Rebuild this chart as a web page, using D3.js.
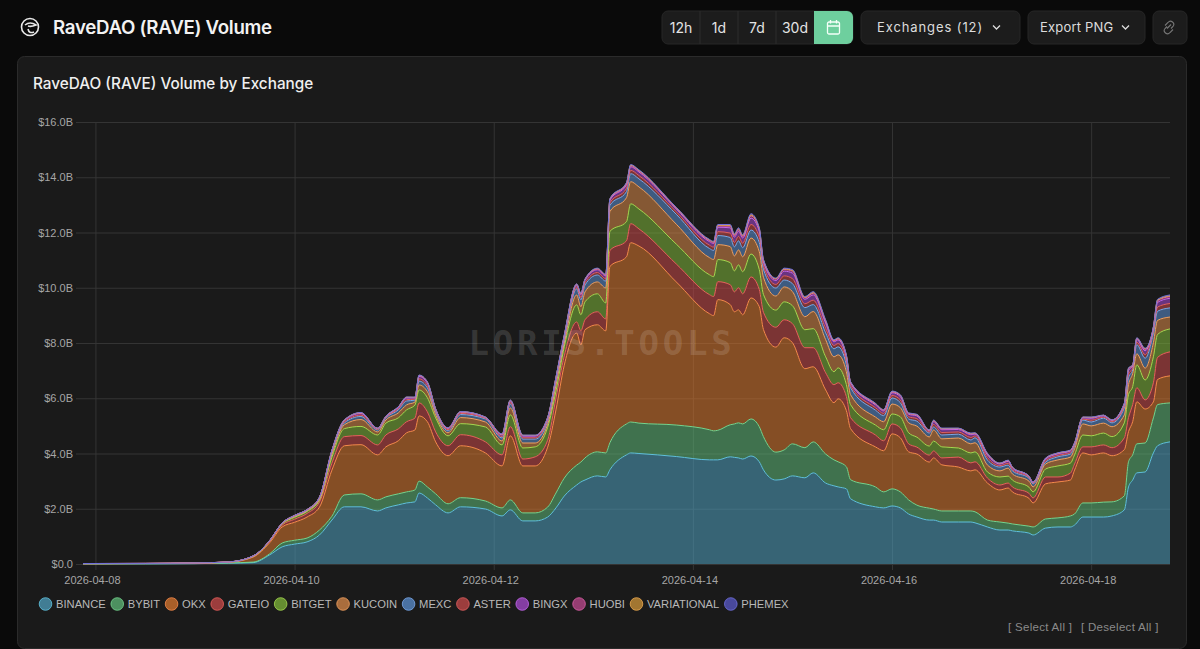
<!DOCTYPE html>
<html>
<head>
<meta charset="utf-8">
<title>RaveDAO (RAVE) Volume</title>
<script src="https://cdnjs.cloudflare.com/ajax/libs/d3/7.9.0/d3.min.js"></script>
<style>
  html, body { margin: 0; padding: 0; background: #0a0a0a; overflow: hidden; }
  svg { display: block; }
</style>
</head>
<body>
<svg id="chart" width="1200" height="649"></svg>
<script>
// hours since 2026-04-08 00:00 UTC
const hours = [
  -3,12,24,32,38,42,45,48,51,54,
  57,60,64,68,70,73,75,77,78,80,
  82,85,88,94,98,100,103,106,109,111,
  113,116,117,118,121,123,124,128,129,131,
  140,148,149,150,153,154,155,156,158,160,
  161,164,166,168,171,173,176,178,179,181,
  182,188,190,192,194,196,198,201,202,204,
  208,211,212,215,218,220,221,225,226,229,
  232,235,236,238,240,243,245,248,249,250,
  251,253,255,256,259];

// volume per exchange, $B
const binance = [
  .004,.006,.012,.03,.05,.33,.62,.72,.80,1.05,
  1.59,2.07,2.07,1.92,2.03,2.14,2.21,2.25,2.57,2.39,
  2.14,1.85,2.07,1.99,1.74,1.96,1.56,1.56,1.70,2.03,
  2.46,2.86,2.97,3.04,3.19,3.15,3.41,3.95,4.02,4.00,
  3.89,3.77,3.77,3.77,3.88,3.86,3.84,3.80,3.91,3.70,
  3.41,3.04,3.08,3.19,3.12,3.30,2.93,2.83,2.79,2.72,
  2.36,2.07,2.03,2.10,2.03,1.81,1.70,1.59,1.59,1.52,
  1.52,1.52,1.49,1.34,1.23,1.23,1.20,1.12,1.05,1.30,
  1.34,1.34,1.41,1.70,1.70,1.70,1.74,1.96,2.79,3.04,
  3.30,3.33,4.02,4.28,4.42];
const bybit = [
  .001,.002,.004,.008,.02,.04,.14,.14,.14,.18,
  .14,.43,.47,.40,.40,.40,.40,.43,.43,.40,
  .40,.33,.33,.29,.29,.36,.29,.29,.36,.54,
  .65,.72,.72,.80,.87,.87,.98,1.12,1.12,1.10,
  1.14,1.09,1.05,1.07,1.16,1.21,1.27,1.27,1.34,1.27,
  1.20,1.01,1.05,1.16,1.09,1.12,1.05,.94,.91,.80,
  .69,.72,.58,.62,.58,.51,.43,.43,.40,.40,
  .40,.40,.40,.25,.29,.25,.25,.25,.29,.33,
  .33,.40,.40,.51,.51,.54,.51,.51,.91,.91,
  1.05,1.05,1.27,1.49,1.41];
const okx = [
  .006,.008,.014,.025,.18,.40,.58,.65,.76,.83,
  1.67,1.78,1.78,1.63,1.81,1.92,2.14,2.17,2.36,2.36,
  1.88,1.74,1.88,1.74,1.52,2.32,1.70,1.70,2.17,3.01,
  4.09,4.78,4.24,4.64,4.60,4.42,6.38,6.05,6.49,6.41,
  5.18,4.20,4.17,4.73,4.35,4.06,4.09,3.95,4.38,4.35,
  3.88,3.80,4.06,3.66,2.86,2.72,2.32,2.07,2.28,2.03,
  1.85,1.45,1.49,1.99,1.96,1.74,1.85,1.67,1.85,1.67,
  1.59,1.45,1.52,1.34,1.16,1.27,1.16,1.01,.87,1.27,
  1.30,1.30,1.59,1.81,1.74,1.78,1.67,1.67,1.09,1.20,
  1.52,1.23,.58,.91,.98];
const gateio = [
  .001,.001,.002,.003,.01,.04,.07,.11,.13,.18,
  .25,.33,.33,.36,.43,.43,.40,.43,.47,.36,
  .36,.36,.40,.40,.40,.33,.25,.33,.25,.43,
  .33,.40,.51,.36,.47,.43,.58,.58,.69,.62,
  .65,.69,.69,.65,.72,.72,.80,.76,.76,.62,
  .62,.72,.65,.69,.76,.69,.62,.65,.58,.51,
  .40,.43,.36,.36,.36,.29,.25,.25,.25,.25,
  .36,.29,.29,.18,.18,.18,.18,.18,.18,.25,
  .18,.25,.22,.22,.29,.29,.29,.43,.51,.62,
  .51,.33,.69,.80,.87];
const bitget = [
  .001,.001,.002,.003,.01,.02,.04,.07,.07,.07,
  .22,.29,.33,.36,.43,.40,.43,.47,.47,.51,
  .51,.36,.40,.54,.36,.43,.40,.36,.47,.25,
  .33,.62,.58,.65,.65,.58,.69,.69,.72,.72,
  .72,.72,.72,.80,.80,.76,.83,.80,.83,.72,
  .65,.62,.65,.65,.65,.69,.58,.47,.54,.43,
  .47,.36,.40,.36,.40,.40,.36,.33,.36,.40,
  .33,.36,.36,.22,.29,.25,.25,.22,.22,.29,
  .40,.36,.33,.43,.40,.43,.40,.54,.83,.65,
  .83,.72,.94,.83,.83];
const kucoin = [
  .001,.001,.001,.002,.01,.01,.015,.025,.025,.04,
  .11,.14,.25,.11,.11,.18,.18,.11,.18,.22,
  .11,.11,.22,.18,.14,.25,.18,.14,.11,.22,
  .14,.36,.29,.36,.43,.54,.72,.87,.80,.80,
  .72,.62,.62,.54,.58,.54,.54,.54,.58,.65,
  .62,.51,.54,.51,.47,.62,.62,.54,.47,.47,
  .36,.29,.29,.36,.33,.36,.40,.33,.40,.29,
  .36,.33,.33,.25,.22,.29,.22,.22,.18,.18,
  .22,.22,.22,.40,.36,.36,.36,.29,.36,.47,
  .40,.43,.51,.51,.43];
const mexc = [
  .001,.001,.001,.001,.005,.007,.011,.022,.018,.036,
  .07,.07,.11,.07,.07,.11,.14,.07,.14,.14,
  .11,.07,.11,.11,.11,.14,.14,.14,.11,.14,
  .11,.22,.25,.25,.25,.25,.22,.22,.29,.29,
  .36,.33,.33,.33,.33,.33,.33,.33,.29,.33,
  .29,.29,.25,.29,.33,.25,.25,.29,.29,.25,
  .25,.25,.22,.22,.18,.14,.18,.14,.11,.14,
  .14,.14,.18,.18,.14,.11,.11,.11,.11,.07,
  .11,.11,.11,.14,.14,.18,.14,.25,.25,.14,
  .33,.36,.36,.33,.33];
const aster = [
  .001,.001,.001,.001,.003,.001,.003,.009,.01,.013,
  .025,.04,.05,.025,.025,.04,.05,.04,.08,.08,
  .04,.04,.04,.025,.05,.05,.05,.05,.05,.05,
  .065,.065,.09,.08,.09,.09,.09,.12,.12,.12,
  .09,.12,.12,.14,.16,.16,.16,.16,.20,.19,
  .13,.13,.15,.18,.14,.16,.16,.12,.12,.13,
  .08,.09,.08,.09,.10,.08,.09,.04,.09,.09,
  .08,.09,.065,.09,.05,.065,.05,.025,.025,.05,
  .05,.05,.04,.04,.065,.04,.04,.065,.13,.065,
  .09,.13,.08,.15,.16];
const bingx = [
  .001,.001,.001,.001,.004,.002,.004,.01,.012,.015,
  .03,.045,.06,.03,.03,.045,.06,.045,.09,.09,
  .045,.045,.045,.03,.06,.06,.06,.06,.06,.06,
  .07,.07,.10,.09,.10,.10,.10,.13,.13,.13,
  .10,.13,.13,.16,.19,.19,.19,.19,.23,.22,
  .14,.14,.17,.20,.16,.19,.19,.13,.13,.14,
  .09,.10,.09,.10,.12,.09,.10,.045,.10,.10,
  .09,.10,.07,.10,.06,.07,.06,.03,.03,.06,
  .06,.06,.045,.045,.07,.045,.045,.07,.14,.07,
  .10,.14,.09,.17,.19];
const huobi = [
  0,0,0,0,.001,.001,.001,.003,.004,.005,
  .01,.015,.02,.01,.01,.015,.02,.015,.03,.03,
  .015,.015,.015,.01,.02,.02,.02,.02,.02,.02,
  .025,.025,.03,.03,.03,.03,.03,.04,.04,.04,
  .03,.04,.04,.05,.06,.06,.06,.06,.08,.07,
  .05,.05,.06,.07,.05,.06,.06,.04,.04,.05,
  .03,.03,.03,.03,.04,.03,.03,.015,.03,.03,
  .03,.03,.025,.03,.02,.025,.02,.01,.01,.02,
  .02,.02,.015,.015,.025,.015,.015,.025,.05,.025,
  .03,.05,.03,.06,.06];
const variational = [
  0,0,0,0,0,0,0,.001,.001,.001,
  .003,.005,.008,.003,.003,.005,.008,.005,.01,.01,
  .005,.005,.005,.003,.008,.008,.008,.008,.008,.008,
  .01,.01,.015,.01,.015,.015,.015,.02,.02,.02,
  .015,.02,.02,.025,.03,.03,.03,.03,.04,.03,
  .02,.02,.025,.03,.025,.03,.03,.02,.02,.02,
  .01,.015,.01,.015,.015,.01,.015,.005,.015,.015,
  .01,.015,.01,.015,.008,.01,.008,.003,.003,.008,
  .008,.008,.005,.005,.01,.005,.005,.01,.02,.01,
  .015,.02,.01,.025,.03];
const phemex = [
  0,0,0,0,0,0,0,.001,.001,.001,
  .002,.005,.007,.002,.002,.005,.007,.005,.01,.01,
  .005,.005,.005,.002,.007,.007,.007,.007,.007,.007,
  .01,.01,.015,.01,.015,.015,.015,.02,.02,.02,
  .015,.02,.02,.025,.03,.03,.03,.03,.04,.03,
  .02,.02,.025,.03,.025,.03,.03,.02,.02,.02,
  .01,.015,.01,.015,.015,.01,.015,.005,.015,.015,
  .01,.015,.01,.015,.007,.01,.007,.002,.002,.007,
  .007,.007,.005,.005,.01,.005,.005,.01,.02,.01,
  .015,.02,.01,.025,.03];

const exchanges = ['BINANCE','BYBIT','OKX','GATEIO','BITGET','KUCOIN','MEXC','ASTER','BINGX','HUOBI','VARIATIONAL','PHEMEX'];
const seriesValues = [binance,bybit,okx,gateio,bitget,kucoin,mexc,aster,bingx,huobi,variational,phemex];
const colors = ['#4f9fbd','#5fb878','#d9772f','#c84a4a','#7fb53a','#d98a4a','#5b8fd0','#c84a4a','#a84ad0','#c04a90','#d0953a','#5a5ac8'];
const lineColors = ['#5fc0dc','#74d48e','#f58a4b','#e8605c','#a6d850','#f0a060','#7aa8e8','#e06060','#c468ec','#dc60a8','#e8a850','#7070dc'];

const yTicks = [0,2,4,6,8,10,12,14,16];
const xLabels = ['2026-04-08','2026-04-10','2026-04-12','2026-04-14','2026-04-16','2026-04-18'];
const rangeButtons = ['12h','1d','7d','30d'];

const svg = d3.select('#chart');
const uiFont = 'Inter, "Noto Sans", sans-serif';
const axisFont = '"Liberation Sans", Arial, sans-serif';
const hourMs = 3600 * 1000;
const t0 = Date.UTC(2026, 3, 8);

// page header
const logo = svg.append('g').attr('transform', 'translate(30,27)').attr('fill', 'none').attr('stroke', '#e8e8e8');
logo.append('circle').attr('r', 8.5).attr('stroke-width', 1.6);
logo.append('path').attr('d', 'M-5,-2 Q0,-6 6,-2 Q1,0 -2,-1 M-2,2 Q-1,7 4,5').attr('stroke-width', 1.6);

svg.append('text').attr('x', 53).attr('y', 34)
  .attr('font-family', uiFont).attr('font-size', 18.7).attr('font-weight', 600).attr('letter-spacing', '-0.3px')
  .attr('fill', '#f2f2f2').text('RaveDAO (RAVE) Volume');

// range buttons
svg.append('rect').attr('x', 662).attr('y', 11).attr('width', 191).attr('height', 33).attr('rx', 6)
  .attr('fill', '#1c1c1c').attr('stroke', '#262626');
const bandX = d3.scaleBand().domain(rangeButtons).range([662, 814]);
const rb = svg.append('g').selectAll('g').data(rangeButtons).join('g');
rb.append('text').attr('x', d => bandX(d) + bandX.bandwidth() / 2).attr('y', 32.5).attr('text-anchor', 'middle')
  .attr('font-family', uiFont).attr('font-size', 14).attr('fill', '#e4e4e4').text(d => d);
rb.filter((d, i) => i > 0).append('line')
  .attr('x1', d => bandX(d)).attr('x2', d => bandX(d)).attr('y1', 11).attr('y2', 44).attr('stroke', '#2c2c2c');
svg.append('path').attr('d', 'M814,11 H847 a6,6 0 0 1 6,6 V38 a6,6 0 0 1 -6,6 H814 Z').attr('fill', '#6ecf9e');
const cal = svg.append('g').attr('transform', 'translate(833.5,27.5)').attr('fill', 'none').attr('stroke', '#f4fff9').attr('stroke-width', 1.3);
cal.append('rect').attr('x', -6).attr('y', -5.5).attr('width', 12).attr('height', 12).attr('rx', 1.5);
cal.append('path').attr('d', 'M-6,-1.5 H6 M-3,-7.5 V-4 M3,-7.5 V-4');

function button(x, w, label, spacing, textX, chevronX) {
  svg.append('rect').attr('x', x).attr('y', 11).attr('width', w).attr('height', 33).attr('rx', 6)
    .attr('fill', '#1c1c1c').attr('stroke', '#262626');
  if (label) {
    svg.append('text').attr('x', textX).attr('y', 32)
      .attr('font-family', uiFont).attr('font-size', 13).attr('letter-spacing', spacing).attr('fill', '#dcdcdc').text(label);
    svg.append('path').attr('d', `M${chevronX},25.5 l3.5,3.5 l3.5,-3.5`).attr('fill', 'none').attr('stroke', '#dcdcdc').attr('stroke-width', 1.3);
  }
}
button(861, 159, 'Exchanges (12)', '0.9px', 877, 993);
button(1028, 117, 'Export PNG', '0.2px', 1040, 1122);
button(1153, 34, '', '0');
svg.append('path').attr('d', 'M1168,29 l4,-4 M1166,26 l3,-3 a3,3 0 0 1 5,4 l-2,2 M1174,30 l-3,3 a3,3 0 0 1 -5,-4 l2,-2')
  .attr('transform', 'translate(-1,-0.5)').attr('fill', 'none').attr('stroke', '#777').attr('stroke-width', 1.1);

// card
svg.append('rect').attr('x', 17.5).attr('y', 56.5).attr('width', 1169).attr('height', 592).attr('rx', 7)
  .attr('fill', '#1a1a1a').attr('stroke', '#2b2b2b');
svg.append('text').attr('x', 33).attr('y', 89)
  .attr('font-family', uiFont).attr('font-size', 15.3).attr('font-weight', 500).attr('fill', '#efefef')
  .text('RaveDAO (RAVE) Volume by Exchange');

// scales
const x = d3.scaleUtc().domain([new Date(t0 + hours[0] * hourMs), new Date(t0 + hours[hours.length - 1] * hourMs)]).range([83, 1170]);
const y = d3.scaleLinear().domain([0, 16]).range([564, 122]);

const xAxis = d3.axisBottom(x)
  .tickValues(xLabels.map(s => new Date(s + 'T00:00:00Z')))
  .tickFormat(d3.utcFormat('%Y-%m-%d')).tickSize(-442).tickPadding(12);
const yAxis = d3.axisLeft(y)
  .tickValues(yTicks).tickFormat(d => d === 0 ? '$0.0' : `$${d.toFixed(1)}B`)
  .tickSize(-1087).tickPadding(10);

const gx = svg.append('g').attr('transform', 'translate(0,564)').call(xAxis);
const gy = svg.append('g').attr('transform', 'translate(83,0)').call(yAxis);
[gx, gy].forEach(g => {
  g.select('.domain').remove();
  g.selectAll('line').attr('stroke', '#343434');
  g.selectAll('text').attr('font-family', axisFont).attr('font-size', 11).attr('fill', '#a6a6a6');
});
gx.selectAll('text').attr('dx', -3.5);
gy.selectAll('.tick').append('line').attr('x1', -7).attr('x2', 0).attr('stroke', '#343434');
gx.selectAll('.tick').append('line').attr('y1', 0).attr('y2', 6).attr('stroke', '#343434');

// stacked areas
const table = hours.map((h, i) => {
  const row = { date: new Date(t0 + h * hourMs) };
  exchanges.forEach((name, s) => { row[name] = seriesValues[s][i]; });
  return row;
});
const layers = d3.stack().keys(exchanges)(table);

const area = d3.area().curve(d3.curveMonotoneX)
  .x(d => x(d.data.date)).y0(d => y(d[0])).y1(d => y(d[1]));
const topLine = d3.line().curve(d3.curveMonotoneX)
  .x(d => x(d.data.date)).y(d => y(d[1]));

const plot = svg.append('g');
plot.selectAll('path.band').data(layers).join('path').attr('class', 'band')
  .attr('d', area).attr('fill', (d, i) => colors[i]).attr('fill-opacity', 0.56);
plot.selectAll('path.edge').data(layers).join('path').attr('class', 'edge')
  .attr('d', topLine).attr('fill', 'none').attr('stroke', (d, i) => lineColors[i]).attr('stroke-width', 1);

// watermark
svg.append('text').attr('x', 602).attr('y', 355).attr('text-anchor', 'middle')
  .attr('font-family', '"DejaVu Sans Mono", monospace').attr('font-size', 34).attr('font-weight', 700)
  .attr('letter-spacing', '3.8px').attr('fill', '#ffffff').attr('fill-opacity', 0.14).text('LORIS.TOOLS');

// legend
let lx = 39;
exchanges.forEach((name, i) => {
  const g = svg.append('g');
  g.append('circle').attr('cx', lx + 6.5).attr('cy', 604).attr('r', 6.3)
    .attr('fill', colors[i]).attr('fill-opacity', 0.75).attr('stroke', lineColors[i]).attr('stroke-opacity', 0.8);
  const label = g.append('text').attr('x', lx + 17).attr('y', 608)
    .attr('font-family', axisFont).attr('font-size', 11.2).attr('fill', '#b8b8b8').text(name);
  lx += 17 + label.node().getComputedTextLength() + 5;
});

// select links
[['[ Select All ]', 1008], ['[ Deselect All ]', 1081]].forEach(([txt, tx]) => {
  svg.append('text').attr('x', tx).attr('y', 631)
    .attr('font-family', axisFont).attr('font-size', 11.5).attr('letter-spacing', '0.3px').attr('fill', '#8a8a8a').text(txt);
});
</script>
</body>
</html>
